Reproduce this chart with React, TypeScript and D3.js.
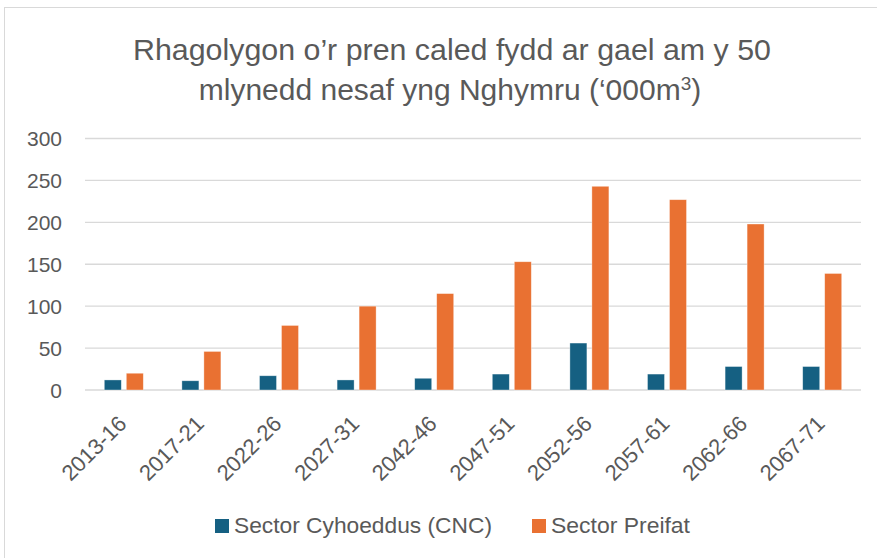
import React from 'react';
import * as d3 from 'd3';

const categories = ['2013-16', '2017-21', '2022-26', '2027-31', '2042-46', '2047-51', '2052-56', '2057-61', '2062-66', '2067-71'];
const publicValues = [12, 11, 17, 12, 14, 19, 56, 19, 28, 28];
const privateValues = [20, 46, 77, 100, 115, 153, 243, 227, 198, 139];
const yTicks = [0, 50, 100, 150, 200, 250, 300];
const seriesNames = ['Sector Cyhoeddus (CNC)', 'Sector Preifat'];
const colors = ['#156082', '#E97132'];

const W = 877;
const H = 558;
const sans = '"Liberation Sans", Arial, sans-serif';
const textColor = '#595959';

export default function App() {
  const margin = { top: 138.5, right: 16, bottom: 168, left: 85 };
  const x = d3.scaleBand<string>()
    .domain(categories)
    .range([margin.left, W - margin.right]);
  const y = d3.scaleLinear()
    .domain([0, 300])
    .range([H - margin.bottom, margin.top]);

  const barW = 17;
  const gap = 5;
  const series = [publicValues, privateValues];

  // legend layout (swatch x, text width)
  const legendX = [215, 532];
  const legendW = [258, 139];

  return (
    <div style={{ position: 'absolute', left: 0, top: 0, width: W, height: H, background: '#fff' }}>
      <svg width={W} height={H} style={{ display: 'block' }}>
        <rect x={4.5} y={7.5} width={W + 10} height={H + 10} fill="#fff" stroke="#d9d9d9" strokeWidth={1} />

        {/* title */}
        <text x={452} y={60} textAnchor="middle" fontFamily={sans} fontSize={30} fill={textColor}
          textLength={638} lengthAdjust="spacingAndGlyphs">
          Rhagolygon o’r pren caled fydd ar gael am y 50
        </text>
        <text x={450} y={100} textAnchor="middle" fontFamily={sans} fontSize={30} fill={textColor}>
          mlynedd nesaf yng Nghymru (‘000m<tspan fontSize={19} dy={-10}>3</tspan><tspan dy={10}>)</tspan>
        </text>

        {/* gridlines + y labels */}
        {yTicks.map(t => (
          <g key={t}>
            <line x1={margin.left} x2={W - margin.right} y1={y(t)} y2={y(t)} stroke="#d9d9d9" strokeWidth={1.3} />
            <text x={62} y={y(t)} dy="0.36em" textAnchor="end" fontFamily={sans} fontSize={21} fill={textColor}>{t}</text>
          </g>
        ))}

        {/* bars */}
        {series.map((vals, si) => (
          <g key={si}>
            {vals.map((v, i) => {
              const cx = (x(categories[i]) as number) + x.bandwidth() / 2;
              const bx = si === 0 ? cx - gap / 2 - barW : cx + gap / 2;
              return (
                <rect key={i} x={bx} y={y(v)} width={barW} height={y(0) - y(v)}
                  fill={colors[si]} stroke="#fff" strokeOpacity={0.5} strokeWidth={0.7} />
              );
            })}
          </g>
        ))}

        {/* x labels, rotated -45 */}
        {categories.map(c => {
          const cx = (x(c) as number) + x.bandwidth() / 2;
          const ax = cx + 4;
          const ay = 425;
          return (
            <text key={c} x={ax} y={ay} textAnchor="end" fontFamily={sans} fontSize={22} fill={textColor}
              transform={`rotate(-45, ${ax}, ${ay})`}>
              {c}
            </text>
          );
        })}

        {/* legend */}
        {seriesNames.map((name, i) => (
          <g key={name}>
            <rect x={legendX[i]} y={519} width={14} height={14} fill={colors[i]} />
            <text x={legendX[i] + 19} y={533} fontFamily={sans} fontSize={22} fill={textColor}
              textLength={legendW[i]} lengthAdjust="spacingAndGlyphs">{name}</text>
          </g>
        ))}
      </svg>
    </div>
  );
}
